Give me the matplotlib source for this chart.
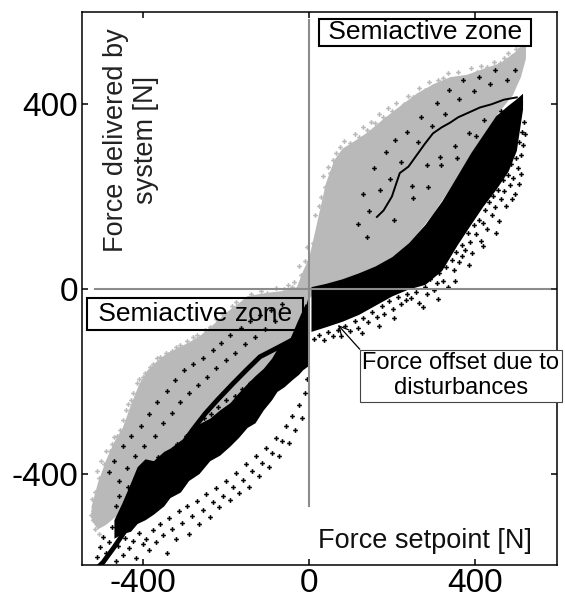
import matplotlib.pyplot as plt
import matplotlib as mpl

mpl.rcParams['font.family'] = ['Liberation Sans', 'DejaVu Sans']
mpl.rcParams['axes.unicode_minus'] = False

# gray cloud: dense band (x, lower edge, upper edge) in N
gray_x = [-525, -510, -490, -470, -450, -430, -410, -390, -370, -350,
          -320, -290, -260, -230, -200, -170, -150, -120, -90, -60,
          -30, -15, 0, 20, 40, 60, 80, 100, 140, 180,
          220, 260, 300, 340, 380, 420, 460, 490, 510, 522]
gray_hi = [-470, -420, -370, -330, -300, -250, -205, -175, -158, -143,
           -128, -115, -98, -75, -50, -30, -15, -10, -6, -3,
           5, 40, 70, 150, 230, 280, 305, 316, 340, 370,
           398, 425, 445, 460, 465, 478, 490, 510, 523, 535]
gray_lo = [-500, -520, -510, -495, -480, -470, -460, -450, -440, -430,
           -410, -390, -360, -340, -320, -290, -270, -240, -210, -160,
           -100, -60, -20, 0, 3, 5, 8, 12, 26, 50,
           80, 120, 165, 220, 275, 330, 387, 420, 460, 500]

# gray samples along the ragged edges
gray_pts_x = [-520, -515, -505, -495, -480, -470, -455, -440, -430, -415, -400, -383, -359, -340,
              -320, -280, -239, -200, -160, -130, -100, -60, -40, -20, -10, 10, 25, 40, 51, 58,
              75, 90, 99, 120, 140, 160, 178, 200, 230, 251, 280, 300, 323, 350, 380, 405,
              430, 460, 490, 508, 516, 520, -520, -510, -500,
              30, 35, 45, 65, 85, 110, 130, 150, 170, 190, 210, 240, 265, 290, 310, 335,
              360, 390, 415, 445, 470, 480, 500, 512, 505, 495, 20, 15, -5, -25,
              -510, -500, -490, -475, -462, -448, -435, -425, -410, -395, -375, -365, -345, -330,
              -310, -295, -270, -250, -225, -210, -185, -175, -140, -115, -80, -50, -35,
              -525, -522, -515, -505]
gray_pts_y = [-480, -440, -410, -380, -350, -320, -305, -262, -240, -203, -190, -169, -147, -140,
              -125, -104, -82, -60, -30, -20, -8, 0, 5, 30, 60, 100, 180, 220, 251, 279,
              307, 300, 316, 330, 345, 360, 372, 385, 400, 415, 430, 440, 458, 455, 460, 469,
              480, 489, 505, 523, 532, 545, -500, -510, -495,
              200, 245, 265, 295, 320, 335, 350, 362, 378, 392, 402, 418, 435, 448, 452, 468,
              470, 478, 484, 492, 500, 512, 520, 540, 515, 498, 120, 160, 90, 50,
              -395, -372, -350, -335, -318, -285, -250, -225, -195, -182, -162, -150, -138, -134,
              -122, -112, -100, -90, -66, -55, -38, -28, -12, -5, 2, 8, 15,
              -490, -455, -520, -530]

# black cloud, upper right dense part
blk_a_x = [5, 40, 80, 120, 160, 200, 240, 280, 320, 357, 390, 420, 450, 480, 500, 515]
blk_a_hi = [5, 12, 22, 35, 50, 70, 100, 140, 190, 245, 295, 335, 375, 398, 412, 424]
blk_a_lo = [-92, -82, -70, -55, -35, -15, 0, 10, 40, 95, 140, 180, 215, 255, 300, 390]

# black cloud, lower left dense part
blk_b_x = [-470, -450, -430, -414, -395, -375, -350, -335, -310, -290, -265, -239, -215,
           -190, -170, -149, -130, -110, -90, -77, -60, -40, -25, -15, 0]
blk_b_hi = [-500, -462, -420, -385, -368, -372, -352, -345, -328, -318, -292, -280, -262,
            -246, -225, -205, -188, -172, -150, -130, -120, -100, -80, -60, -10]
blk_b_lo = [-540, -530, -525, -508, -500, -488, -470, -452, -440, -415, -400, -372, -360,
            -340, -322, -300, -290, -262, -240, -222, -212, -196, -185, -175, -165]

# dense black ridge, lower left
ridge_x = [-505, -496, -470, -440, -415, -390, -360, -330, -300, -280, -250, -220, -183, -150,
           -118, -77, -39, -22, -5]
ridge_y = [-600, -592, -560, -520, -485, -450, -410, -370, -330, -305, -270, -240, -205, -175,
           -147, -128, -110, -74, -40]

# black trace running inside the gray band, upper right
trace_x = [164, 180, 200, 219, 240, 260, 280, 299, 320, 340, 360, 380, 412, 440, 470, 501]
trace_y = [156, 170, 200, 251, 265, 290, 315, 337, 350, 360, 372, 380, 393, 400, 410, 415]

# black samples, lower left: outer fringe
ll_out_x = [-512, -503, -497, -488, -481, -474, -466, -459, -448, -443, -433, -425, -417, -409,
            -400, -392, -385, -377, -369, -358, -351, -342, -338, -329, -320, -313, -305, -294,
            -288, -281, -270, -264, -256, -247, -239, -232, -223, -216, -208, -199, -190, -184,
            -176, -168, -160, -152, -145, -137, -128, -121, -113, -104, -97, -89, -80, -73,
            -64, -56, -47, -40, -33, -24, -17, -9, -4]
ll_out_y = [-580, -560, -537, -572, -548, -515, -590, -556, -576, -540, -561, -547, -583, -529,
            -553, -541, -566, -522, -548, -510, -534, -573, -497, -520, -541, -482, -506, -471,
            -530, -492, -459, -510, -478, -445, -493, -462, -431, -472, -448, -415, -458, -430,
            -398, -441, -414, -380, -428, -395, -362, -405, -378, -345, -386, -355, -322, -362,
            -330, -298, -334, -276, -305, -252, -280, -226, -195]

# black samples, lower left: between ridge and dense part
ll_mid_x = [-466, -457, -444, -436, -425, -413, -404, -396, -383, -372, -364, -355, -345, -333,
            -326, -318, -309, -297, -291, -280, -271, -263, -252, -244, -236, -226, -218, -208,
            -199, -190, -179, -172, -161, -152, -141, -133, -122, -112, -101, -93, -83, -71,
            -62, -51, -43, -32, -20, -12]
ll_mid_y = [-470, -449, -462, -428, -446, -411, -432, -401, -420, -386, -365, -398, -372, -352,
            -384, -337, -360, -318, -342, -329, -298, -316, -280, -302, -270, -288, -255, -276,
            -240, -262, -231, -250, -216, -238, -204, -224, -190, -211, -178, -196, -161, -182,
            -150, -166, -130, -150, -110, -132]

# black samples, lower left: inside the gray band
ll_in_x = [-481, -470, -458, -449, -439, -428, -418, -404, -397, -386, -372, -366, -352, -343,
           -331, -322, -311, -300, -288, -279, -268, -255, -246, -232, -224, -211, -200, -189,
           -178, -164, -153, -141, -130, -117, -106, -92, -81, -66]
ll_in_y = [-396, -372, -415, -340, -388, -318, -362, -296, -341, -270, -318, -244, -290, -222,
           -268, -198, -246, -176, -226, -162, -208, -150, -190, -133, -172, -118, -155, -100,
           -138, -84, -120, -70, -104, -56, -86, -46, -70, -32]

# black samples, upper right: outer fringe of the wedge
ur_out_x = [247, 258, 266, 279, 284, 293, 301, 309, 314, 323, 331, 336, 344, 349, 355, 361,
            368, 370, 377, 384, 389, 392, 399, 404, 411, 416, 419, 425, 430, 434, 441, 444,
            449, 455, 458, 462, 467, 471, 474, 480, 484, 488, 493, 496, 499, 503, 507, 511,
            514, 517, 519, 522, 512, 506, 489, 452, 420, 387, 352, 310, 275, 233]
ur_out_y = [-20, -6, -31, 4, -12, 22, -3, 12, 35, 18, 47, 5, 62, 40, 81, 58,
            96, 71, 84, 122, 101, 77, 139, 118, 150, 104, 142, 171, 130, 188, 160, 201,
            177, 214, 148, 195, 236, 212, 180, 247, 226, 270, 240, 205, 284, 262, 318, 291,
            340, 312, 362, 335, 250, 228, 195, 122, 92, 52, 18, -22, -40, -24]

# black samples, upper right: below the blob next to the origin
ur_org_x = [12, 24, 37, 46, 59, 71, 77, 88, 99, 112, 119, 131, 142, 151, 163, 176, 181, 194,
            203, 214, 221, 236, 128, 168, 205]
ur_org_y = [-108, -99, -110, -93, -101, -88, -103, -80, -91, -69, -84, -62, -71, -49, -60, -38,
            -55, -27, -44, -18, -33, -12, -95, -80, -62]

# black samples, upper right: inside the gray band
ur_in_x = [118, 131, 146, 158, 172, 187, 196, 208, 223, 237, 248, 263, 271, 284, 296, 308,
           317, 329, 338, 352, 363, 371, 386, 398, 409, 423, 437, 449, 462, 478, 489, 498,
           140, 205, 252, 286, 318, 358, 402, 441]
ur_in_y = [140, 205, 168, 262, 214, 296, 238, 322, 276, 341, 224, 318, 372, 268, 352, 402,
           286, 378, 432, 310, 411, 452, 338, 428, 459, 366, 445, 474, 386, 452, 396, 475,
           112, 150, 196, 221, 268, 283, 332, 345]

GRAY = '#b9b9b9'
MS = 3.4

fig = plt.figure(figsize=(5.65, 6.02), dpi=100)
ax = fig.add_axes([0.1451, 0.0615, 0.8407, 0.9186])

ax.fill_between(gray_x, gray_lo, gray_hi, color=GRAY, lw=0, zorder=2)
ax.plot(gray_pts_x, gray_pts_y, ls='none', marker='P', ms=MS, mew=0, color=GRAY, zorder=2)

ax.fill_between(blk_a_x, blk_a_lo, blk_a_hi, color='black', lw=0, zorder=3)
ax.fill_between(blk_b_x, blk_b_lo, blk_b_hi, color='black', lw=0, zorder=3)
ax.plot(ridge_x, ridge_y, color='black', lw=3.5, zorder=3)
ax.plot(trace_x, trace_y, color='black', lw=1.4, zorder=3)
for xs, ys in [(ll_out_x, ll_out_y), (ll_mid_x, ll_mid_y), (ll_in_x, ll_in_y),
               (ur_out_x, ur_out_y), (ur_org_x, ur_org_y), (ur_in_x, ur_in_y)]:
    ax.plot(xs, ys, ls='none', marker='P', ms=MS, mew=0, color='black', zorder=3)

# zero lines
ax.plot([0, 0], [-470, 582], color='#8c8c8c', lw=1.5, zorder=4)
ax.plot([-515, 580], [0, 0], color='#8c8c8c', lw=1.5, zorder=4)

ax.set_xlim(-547, 598)
ax.set_ylim(-598, 600)
ax.set_xticks([-400, 0, 400])
ax.set_yticks([-400, 0, 400])
ax.tick_params(direction='in', length=4.5, width=1.1, labelsize=24, pad=3,
               top=True, right=True)
ax.tick_params(axis='x', pad=2)
for sp in ax.spines.values():
    sp.set_linewidth(1.1)

ax.text(-429, 322, 'Force delivered by\nsystem [N]', rotation=90, fontsize=19.5,
        ha='center', va='center', multialignment='center', color='#222222')
ax.text(280, -545, 'Force setpoint [N]', fontsize=19.5, ha='center', va='center',
        color='#111111')

ax.text(280, 556, ' Semiactive zone ', fontsize=19, ha='center', va='center', zorder=5,
        bbox=dict(boxstyle='square,pad=0.05', fc='white', ec='black', lw=1.5))
ax.text(-275, -54, ' Semiactive zone ', fontsize=19, ha='center', va='center', zorder=5,
        bbox=dict(boxstyle='square,pad=0.15', fc='none', ec='black', lw=1.5))

ax.annotate('Force offset due to\ndisturbances', xy=(70, -78), xytext=(366, -188),
            fontsize=17, ha='center', va='center', multialignment='center',
            annotation_clip=False, zorder=6,
            bbox=dict(boxstyle='square,pad=0.1', fc='white', ec='#444444', lw=0.8),
            arrowprops=dict(arrowstyle='->', color='black', lw=0.9, relpos=(0, 1),
                            shrinkA=0, shrinkB=0))

fig.savefig('out.png', dpi=100)
